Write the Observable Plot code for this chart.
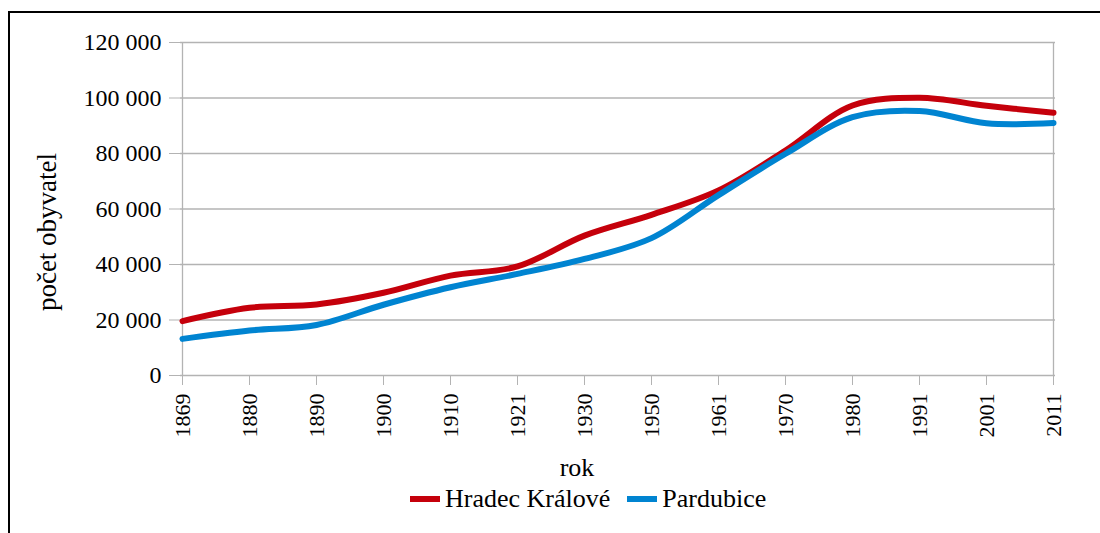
<!DOCTYPE html>
<html>
<head>
<meta charset="utf-8">
<script src="https://cdn.jsdelivr.net/npm/d3@7"></script>
<script src="https://cdn.jsdelivr.net/npm/@observablehq/plot@0.6"></script>
<style>
  html, body { margin: 0; padding: 0; background: #fff; overflow: hidden; }
  #wrap { position: relative; width: 1100px; height: 533px; font-family: "Liberation Serif", "Times New Roman", serif; color: #000; }
  #frame { position: absolute; left: 8px; top: 11px; width: 1200px; height: 600px; border: 2px solid #000; box-sizing: border-box; }
  #chart { position: absolute; left: 0; top: 0; }
  .ylab { position: absolute; left: 47px; top: 232px; transform: translate(-50%, -50%) rotate(-90deg); font-size: 27px; white-space: nowrap; line-height: 1; }
  .xlab { position: absolute; left: 477px; width: 200px; top: 455px; text-align: center; font-size: 26px; line-height: 1; }
  #legend { position: absolute; left: 410px; top: 486px; display: flex; align-items: center; font-size: 26px; line-height: 1; white-space: nowrap; }
  .sw { display: inline-block; width: 30px; height: 6px; margin-right: 5px; }
</style>
</head>
<body>
<div id="wrap">
  <div id="frame"></div>
  <div id="chart"></div>
  <div class="ylab">počet obyvatel</div>
  <div class="xlab">rok</div>
  <div id="legend"></div>
</div>
<script>
const years = ["1869","1880","1890","1900","1910","1921","1930","1950","1961","1970","1980","1991","2001","2011"];
const seriesNames = ["Hradec Králové", "Pardubice"];
const seriesColors = ["#c5000b", "#0084d1"];
const hradecKralove = [19600, 24400, 25600, 29800, 36000, 39300, 50400, 57900, 66700, 81100, 97300, 100100, 97200, 94700];
const pardubice = [13200, 16200, 18200, 25500, 31800, 36600, 42000, 49500, 65000, 79900, 93100, 95300, 90900, 91000];
const yTicks = [0, 20000, 40000, 60000, 80000, 100000, 120000];

const data = years.flatMap((y, i) => [
  {year: y, value: hradecKralove[i], city: seriesNames[0]},
  {year: y, value: pardubice[i], city: seriesNames[1]}
]);

const fmt = d => d3.format(",")(d).replace(/,/g, " ");
const grid = "#b3b3b3";

const chart = Plot.plot({
  width: 1100,
  height: 450,
  marginLeft: 180,
  marginRight: 45,
  marginTop: 42,
  marginBottom: 75,
  style: {fontFamily: "'Liberation Serif', 'Times New Roman', serif", color: "#000", background: "transparent", overflow: "visible"},
  x: {type: "point", domain: years, padding: 0},
  y: {domain: [0, 120000]},
  color: {domain: seriesNames, range: seriesColors},
  marks: [
    Plot.gridY(yTicks, {stroke: grid, strokeOpacity: 1, strokeWidth: 1.3}),
    Plot.ruleX([years[0], years[years.length - 1]], {stroke: grid, strokeWidth: 1.3}),
    Plot.axisY(yTicks, {tickSize: 11, tickPadding: 8, tickFormat: fmt, stroke: grid, fill: "#000", label: null, fontSize: 24}),
    Plot.axisX(years, {tickSize: 10, tickPadding: 8, tickRotate: -90, stroke: grid, fill: "#000", label: null, fontSize: 22}),
    Plot.lineY(data, {x: "year", y: "value", stroke: "city", strokeWidth: 6, curve: "catmull-rom"})
  ]
});
document.getElementById("chart").appendChild(chart);

const legend = document.getElementById("legend");
seriesNames.forEach((name, i) => {
  const item = document.createElement("span");
  item.style.display = "inline-flex";
  item.style.alignItems = "center";
  item.style.marginRight = i === 0 ? "17px" : "0";
  const sw = document.createElement("span");
  sw.className = "sw";
  sw.style.background = seriesColors[i];
  const t = document.createElement("span");
  t.textContent = name;
  item.appendChild(sw);
  item.appendChild(t);
  legend.appendChild(item);
});
</script>
</body>
</html>
